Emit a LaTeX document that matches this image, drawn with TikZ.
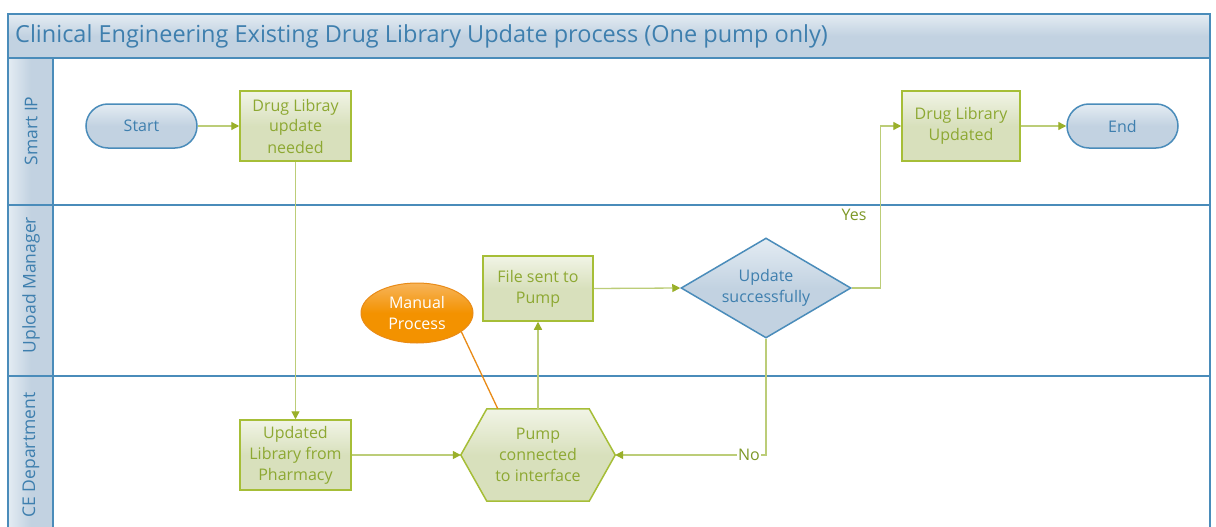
\documentclass[tikz,border=0pt]{standalone}
\usepackage{fontspec}
\setmainfont{Open Sans}
\usetikzlibrary{shapes.geometric,arrows.meta,calc}
\definecolor{lane}{HTML}{4A8CBA}
\definecolor{lanefill}{HTML}{C2D2E1}
\definecolor{lanetop}{HTML}{E4ECF3}
\definecolor{bluetext}{HTML}{3E7FAE}
\definecolor{gfill}{HTML}{D8E0BC}
\definecolor{gtop}{HTML}{F1F4E6}
\definecolor{gdraw}{HTML}{A6BE37}
\definecolor{gtext}{HTML}{8DA832}
\definecolor{gline}{HTML}{BCCD78}
\definecolor{garrow}{HTML}{9AB02A}
\definecolor{glabel}{HTML}{7D9826}
\definecolor{ofill}{HTML}{F39200}
\definecolor{otop}{HTML}{F7B45A}
\definecolor{odraw}{HTML}{E98B17}
\begin{document}
\begin{tikzpicture}[x=1pt,y=-1pt,
  font=\fontsize{16}{21}\selectfont,
  proc/.style={rectangle, draw=gdraw, line width=1.5pt, top color=gtop, bottom color=gfill, middle color=gfill, text=gtext, align=center, inner sep=0pt},
  term/.style={rectangle, rounded corners=22pt, draw=lane, line width=1.5pt, top color=lanetop, bottom color=lanefill, middle color=lanefill, text=bluetext, minimum width=111pt, minimum height=44pt, inner sep=0pt},
  conn/.style={draw=gline, line width=1.3pt, -{Triangle[length=8pt,width=8pt,color=garrow]}},
  lanelbl/.style={rotate=90, text=bluetext, font=\fontsize{17.5}{20}\selectfont},
  lbl/.style={text=glabel, inner sep=1pt}
]
\useasboundingbox (0,0) rectangle (1216,527);
\clip (0,0) rectangle (1216,527);
% frame
\fill[white] (8,14) rectangle (1210,545);
\shade[top color=lanetop, bottom color=lanefill, middle color=lanefill] (8,14) rectangle (1210,58);
\shade[left color=lanetop, right color=lanefill, middle color=lanefill] (8,58) rectangle (53,545);
\draw[lane, line width=1.8pt] (8,14) rectangle (1210,545);
\draw[lane, line width=1.8pt] (8,58) -- (1210,58);
\draw[lane, line width=1.8pt] (53,58) -- (53,545);
\draw[lane, line width=1.8pt] (8,205) -- (1210,205);
\draw[lane, line width=1.8pt] (8,376) -- (1210,376);
\node[anchor=west, text=bluetext, font=\fontsize{23.5}{28}\selectfont, inner sep=0pt] (title) at (15,36) {Clinical Engineering Existing Drug Library Update process (One pump only)};
\node[lanelbl] (l1) at (31,131) {Smart IP};
\node[lanelbl] (l2) at (31,285) {Upload Manager};
\node[lanelbl] (l3) at (31,455) {CE Department};
% nodes
\node[term] (start) at (141.5,126) {Start};
\node[proc, minimum width=111pt, minimum height=70pt] (need) at (295.5,126) {Drug Libray\\update\\needed};
\node[proc, minimum width=111pt, minimum height=70pt] (pharm) at (295.5,455) {Updated\\Library from\\Pharmacy};
\node[rectangle, minimum width=154pt, minimum height=92pt, inner sep=0pt] (hex) at (538,455) {};
\filldraw[draw=gdraw, line width=1.5pt, top color=gtop, bottom color=gfill, middle color=gfill]
  (hex.west) -- ($(hex.north west)+(26,0)$) -- ($(hex.north east)+(-26,0)$) -- (hex.east)
  -- ($(hex.south east)+(-26,0)$) -- ($(hex.south west)+(26,0)$) -- cycle;
\node[text=gtext, align=center] (hextxt) at (hex.center) {Pump\\connected\\to interface};
\node[proc, minimum width=110pt, minimum height=65pt] (file) at (538,288.5) {File sent to\\Pump};
\node[ellipse, draw=odraw, line width=1pt, top color=otop, bottom color=ofill, middle color=ofill, text=white, minimum width=112pt, minimum height=60pt, inner sep=0pt, align=center] (mp) at (417,313) {Manual\\Process};
\node[diamond, aspect=1.7, draw=lane, line width=1.5pt, top color=lanetop, bottom color=lanefill, middle color=lanefill, text=bluetext, minimum width=170pt, minimum height=100pt, inner sep=0pt, align=center] (dec) at (766,288) {Update\\successfully};
\node[proc, minimum width=118pt, minimum height=70pt] (upd) at (961,126) {Drug Library\\Updated};
\node[term] (end) at (1122.5,126) {End};
% connectors
\draw[conn] (start) -- (need);
\draw[conn] (need.south) -- (pharm.north);
\draw[conn] (pharm.east) -- (hex.west);
\draw[conn] (hex.north) -- (file.south);
\draw[conn] (file.east) -- (dec.west);
\draw[conn] (dec.east) -- ++(29,0) |- (upd.west);
\draw[conn] (dec.south) |- (hex.east);
\draw[conn] (upd) -- (end);
\draw[odraw, line width=1.3pt] (mp.-23) -- ($(hex.north west)+(37,0)$);
\node[lbl, fill=white] (yes) at (854,215) {Yes};
\node[lbl, fill=white] (no) at (749,455) {No};
\end{tikzpicture}
\end{document}
